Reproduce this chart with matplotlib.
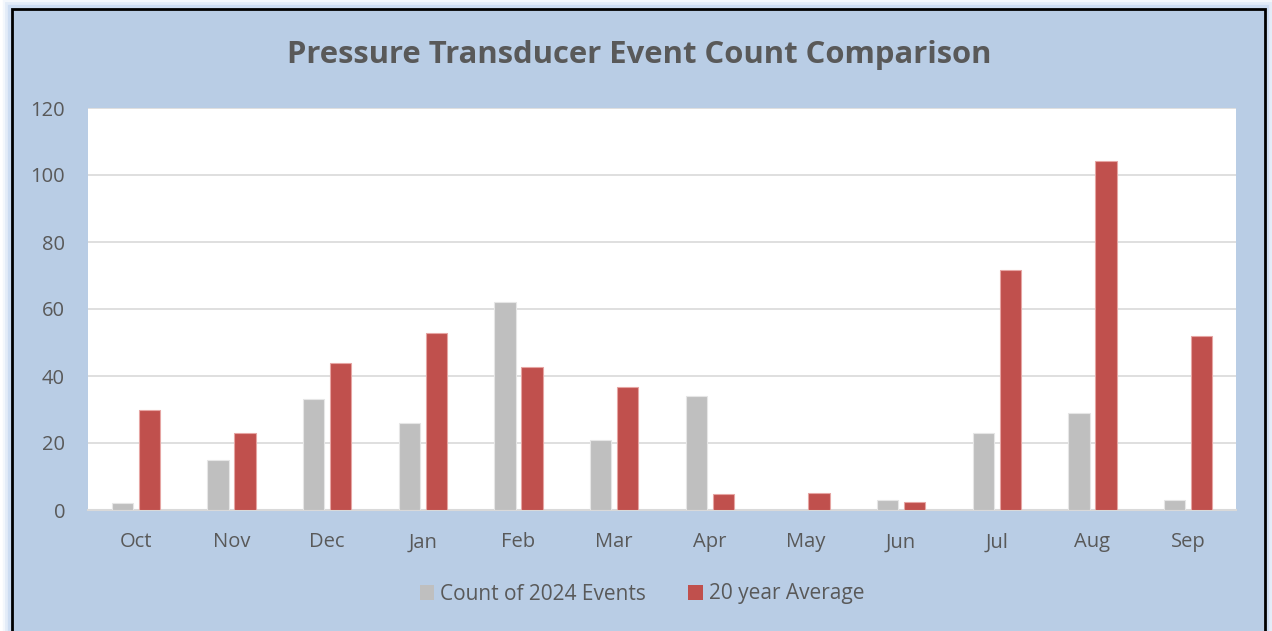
import matplotlib
matplotlib.use("Agg")
import matplotlib.pyplot as plt
import numpy as np
from matplotlib.patches import Rectangle

months = ["Oct", "Nov", "Dec", "Jan", "Feb", "Mar", "Apr", "May", "Jun", "Jul", "Aug", "Sep"]
count_2024 = [2, 15, 33, 26, 62, 21, 34, 0, 3, 23, 29, 3]
avg_20yr = [30, 23, 43.8, 52.8, 42.7, 36.8, 4.7, 5, 2.4, 71.6, 104.2, 51.9]
series_names = ["Count of 2024 Events", "20 year Average"]
yticks = [0, 20, 40, 60, 80, 100, 120]
title = "Pressure Transducer Event Count Comparison"

W, H = 1272, 631
fig = plt.figure(figsize=(W / 100, H / 100), dpi=100, facecolor="white")
plt.rcParams['font.family'] = ['Open Sans', 'DejaVu Sans']

# glow
for lw, a in [(14, 0.10), (10, 0.15), (6, 0.25)]:
    fig.patches.append(Rectangle((12 / W, -20 / H), (1265 - 12) / W, (H - 9 + 20) / H,
                                 transform=fig.transFigure, facecolor="none",
                                 edgecolor="#8DB3E2", linewidth=lw, alpha=a, zorder=0))
fig.patches.append(Rectangle((12 / W, -20 / H), (1265 - 12) / W, (H - 9 + 20) / H,
                             transform=fig.transFigure, facecolor="#B9CDE5",
                             edgecolor="black", linewidth=2, zorder=1))

ax = fig.add_axes([88 / W, (H - 510) / H, (1236 - 88) / W, (510 - 108) / H])
ax.set_zorder(5)
ax.set_facecolor("white")
x = np.arange(len(months))
bw = 0.22
off = 0.141
ax.bar(x - off, count_2024, bw, color="#BFBFBF", edgecolor="#E6E6E6", linewidth=0.8,
       label=series_names[0], zorder=3)
ax.bar(x + off, avg_20yr, bw, color="#C0504D", edgecolor="#E6A5A3", linewidth=0.8,
       label=series_names[1], zorder=3)
ax.set_xlim(-0.5, len(months) - 0.5)
ax.set_ylim(0, 120)
ax.set_yticks(yticks)
ax.set_xticks(x)
ax.set_xticklabels(months)
ax.yaxis.grid(True, color="#D9D9D9", linewidth=1.2, zorder=0)
ax.set_axisbelow(True)
for s in ["top", "right", "left"]:
    ax.spines[s].set_visible(False)
ax.spines["bottom"].set_color("#D9D9D9")
ax.spines["bottom"].set_linewidth(1.5)
ax.tick_params(axis="both", length=0, labelsize=14.5, labelcolor="#595959")
ax.tick_params(axis="y", pad=16.5)
ax.tick_params(axis="x", pad=16)

t = fig.text(639 / W, (H - 55) / H, title, ha="center", va="center", fontsize=22.3,
             fontweight="bold", color="#595959")
t.set_zorder(6)

leg = fig.legend(loc="center", bbox_to_anchor=(642 / W, (H - 594) / H), ncol=2,
                 frameon=False, fontsize=15, handlelength=0.7, handleheight=0.7,
                 columnspacing=2.0, handletextpad=0.3)
leg.set_zorder(6)
for h in leg.legend_handles:
    h.set_edgecolor("none")
for tx in leg.get_texts():
    tx.set_color("#595959")

fig.savefig("out.png", dpi=100, facecolor="white")
